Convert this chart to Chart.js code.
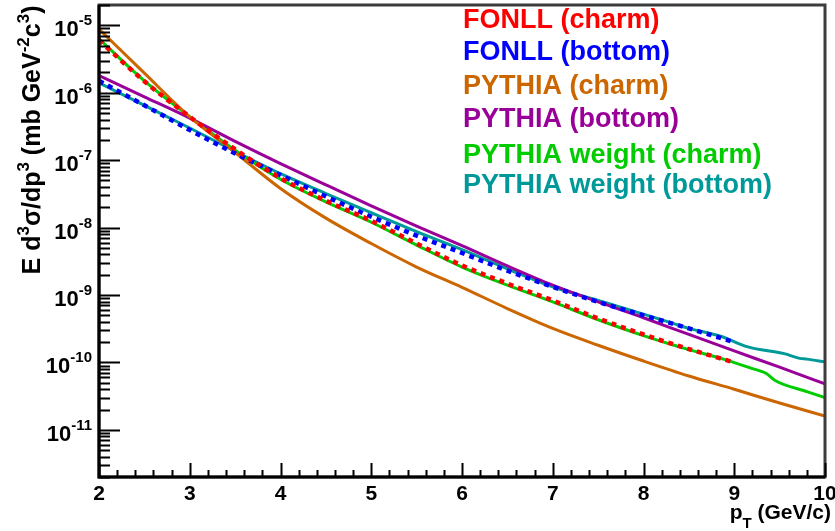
<!DOCTYPE html>
<html>
<head>
<meta charset="utf-8">
<script src="https://cdn.jsdelivr.net/npm/chart.js@4.4.0/dist/chart.umd.min.js"></script>
<style>
  body { margin: 0; background: #fff; }
  #wrap { width: 835px; height: 531px; position: relative; }
</style>
</head>
<body>
<div id="wrap"><canvas id="mainChart"></canvas></div>
<script>
// pT points (GeV/c) and cross sections (mb GeV^-2 c^3)
const ptFonll = [2, 2.5, 3, 3.5, 4, 4.5, 5, 5.5, 6, 6.5, 7, 7.5, 8, 8.5, 9];
const fonllCharm = [6.0e-6, 1.48e-6, 4.4e-7, 1.45e-7, 5.4e-8, 2.5e-8, 1.26e-8, 5.8e-9, 2.75e-9, 1.48e-9, 8.3e-10, 4.5e-10, 2.6e-10, 1.58e-10, 1.0e-10];
const fonllBottom = [1.5e-6, 6.5e-7, 2.8e-7, 1.26e-7, 6.0e-8, 2.9e-8, 1.45e-8, 7.6e-9, 4.2e-9, 2.3e-9, 1.32e-9, 7.9e-10, 5.0e-10, 3.2e-10, 2.0e-10];

const ptPythia = [2, 2.5, 3, 3.5, 4, 4.5, 5, 5.5, 6, 6.5, 7, 7.5, 8, 8.5, 9, 9.5, 10];
const pythiaCharm = [8.8e-6, 1.95e-6, 4.4e-7, 1.3e-7, 3.8e-8, 1.38e-8, 5.8e-9, 2.6e-9, 1.3e-9, 6.3e-10, 3.2e-10, 1.8e-10, 1.05e-10, 6.3e-11, 4.0e-11, 2.5e-11, 1.6e-11];
const pythiaBottom = [1.8e-6, 8.7e-7, 4.2e-7, 1.9e-7, 8.9e-8, 4.3e-8, 2.1e-8, 1.05e-8, 5.4e-9, 2.7e-9, 1.4e-9, 7.9e-10, 4.6e-10, 2.6e-10, 1.48e-10, 8.5e-11, 4.8e-11];

const ptWeightCharm = [2, 2.5, 3, 3.5, 4, 4.5, 5, 5.5, 6, 6.5, 7, 7.5, 8, 8.3, 8.5, 8.9, 9.2, 9.35, 9.45, 9.8, 10];
const weightCharm = [6.3e-6, 1.5e-6, 4.4e-7, 1.4e-7, 5.2e-8, 2.4e-8, 1.2e-8, 5.5e-9, 2.6e-9, 1.4e-9, 7.9e-10, 4.3e-10, 2.5e-10, 1.86e-10, 1.55e-10, 1.1e-10, 8.1e-11, 6.9e-11, 5.4e-11, 3.7e-11, 3.0e-11];
const ptWeightBottom = [2, 2.5, 3, 3.5, 4, 4.5, 5, 5.5, 6, 6.5, 7, 7.5, 8, 8.3, 8.5, 8.85, 9.15, 9.55, 9.72, 9.8, 10];
const weightBottom = [1.4e-6, 6.5e-7, 3.0e-7, 1.35e-7, 6.3e-8, 3.2e-8, 1.66e-8, 8.7e-9, 4.7e-9, 2.45e-9, 1.32e-9, 8.3e-10, 5.2e-10, 3.9e-10, 3.2e-10, 2.45e-10, 1.7e-10, 1.35e-10, 1.15e-10, 1.12e-10, 1.02e-10];

const seriesLabels = ['FONLL (charm)', 'FONLL (bottom)', 'PYTHIA (charm)', 'PYTHIA (bottom)', 'PYTHIA weight (charm)', 'PYTHIA weight (bottom)'];
const seriesColors = ['#ff0000', '#0000ff', '#cc6600', '#990099', '#00cc00', '#009999'];

const xTicks = [2, 3, 4, 5, 6, 7, 8, 9, 10];
const yDecades = [-11, -10, -9, -8, -7, -6, -5];

const FONT = '"Liberation Sans", Arial, sans-serif';

function pts(xs, ys) {
    return xs.map((x, i) => ({ x: x, y: ys[i] }));
}

// draw a run of text pieces, each with its own size and vertical shift
function richWidth(ctx, parts) {
    let w = 0;
    parts.forEach(p => { ctx.font = 'bold ' + p.size + 'px ' + FONT; w += ctx.measureText(p.t).width; });
    return w;
}
function drawRich(ctx, parts, x, y) {
    let cx = x;
    parts.forEach(p => {
        ctx.font = 'bold ' + p.size + 'px ' + FONT;
        ctx.fillText(p.t, cx, y + (p.dy || 0));
        cx += ctx.measureText(p.t).width;
    });
}

const rootStyle = {
    id: 'rootStyle',
    afterDatasetsDraw(chart) {
        const ctx = chart.ctx;
        const a = chart.chartArea;
        const xs = chart.scales.x;
        const ys = chart.scales.y;
        ctx.save();

        // frame
        ctx.strokeStyle = '#3c3c3c';
        ctx.lineWidth = 3;
        ctx.strokeRect(a.left, a.top, a.right - a.left, a.bottom - a.top);
        ctx.strokeStyle = '#000';
        ctx.beginPath();
        ctx.moveTo(a.left, a.top);
        ctx.lineTo(a.left, a.bottom);
        ctx.lineTo(a.right, a.bottom);
        ctx.stroke();

        // x ticks
        ctx.lineWidth = 2;
        ctx.beginPath();
        for (let i = 0; i <= 40; i++) {
            const v = 2 + i * 0.2;
            const px = Math.round(xs.getPixelForValue(v)) + 0.5;
            const len = (i % 5 === 0) ? 14 : 7;
            ctx.moveTo(px, a.bottom);
            ctx.lineTo(px, a.bottom - len);
        }
        // y ticks
        for (let e = -12; e <= -5; e++) {
            for (let k = 1; k <= 9; k++) {
                const v = k * Math.pow(10, e);
                if (v < ys.min || v > ys.max) continue;
                const py = Math.round(ys.getPixelForValue(v)) + 0.5;
                const len = (k === 1) ? 21 : 11;
                ctx.moveTo(a.left, py);
                ctx.lineTo(a.left + len, py);
            }
        }
        ctx.stroke();

        ctx.fillStyle = '#000';
        ctx.textBaseline = 'alphabetic';

        // x tick labels
        ctx.font = 'bold 21px ' + FONT;
        ctx.textAlign = 'center';
        xTicks.forEach(v => {
            ctx.fillText(String(v), xs.getPixelForValue(v), 500);
        });

        // y tick labels 10^n
        ctx.textAlign = 'left';
        yDecades.forEach(e => {
            const py = ys.getPixelForValue(Math.pow(10, e));
            const parts = [{ t: '10', size: 22, dy: 11 }, { t: String(e), size: 15, dy: 0 }];
            const w = richWidth(ctx, parts);
            drawRich(ctx, parts, 92 - w, py);
        });

        // x title
        const xt = [{ t: 'p', size: 21 }, { t: 'T', size: 15, dy: 9 }, { t: ' (GeV/c)', size: 21 }];
        drawRich(ctx, xt, 831 - richWidth(ctx, xt), 519);

        // y title
        const yt = [
            { t: 'E d', size: 25 }, { t: '3', size: 17, dy: -11 },
            { t: 'σ/dp', size: 25 }, { t: '3', size: 17, dy: -11 },
            { t: ' (mb GeV', size: 25 }, { t: '-2', size: 17, dy: -11 },
            { t: 'c', size: 25 }, { t: '3', size: 17, dy: -11 },
            { t: ')', size: 25 }
        ];
        ctx.save();
        ctx.translate(40, 140);
        ctx.rotate(-Math.PI / 2);
        drawRich(ctx, yt, -richWidth(ctx, yt) / 2, 0);
        ctx.restore();

        // legend (coloured text only)
        const legY = [28, 60, 94, 127, 163, 193];
        ctx.font = 'bold 27px ' + FONT;
        seriesLabels.forEach((lab, i) => {
            ctx.fillStyle = seriesColors[i];
            ctx.fillText(lab, 463, legY[i]);
        });

        ctx.restore();
    }
};

function dataset(i, xs, ys, dotted) {
    return {
        label: seriesLabels[i],
        data: pts(xs, ys),
        borderColor: seriesColors[i],
        backgroundColor: seriesColors[i],
        borderWidth: dotted ? 4.5 : 3,
        borderDash: dotted ? [5, 5] : [],
        borderCapStyle: 'butt',
        pointRadius: 0,
        fill: false,
        cubicInterpolationMode: 'monotone'
    };
}

window.onload = () => {
    const ctx = document.getElementById('mainChart');
    new Chart(ctx, {
        type: 'line',
        data: {
            datasets: [
                dataset(0, ptFonll, fonllCharm, true),
                dataset(1, ptFonll, fonllBottom, true),
                dataset(2, ptPythia, pythiaCharm, false),
                dataset(3, ptPythia, pythiaBottom, false),
                dataset(4, ptWeightCharm, weightCharm, false),
                dataset(5, ptWeightBottom, weightBottom, false)
            ]
        },
        options: {
            responsive: true,
            maintainAspectRatio: false,
            animation: false,
            layout: { padding: { left: 99, right: 10, top: 5, bottom: 54 } },
            plugins: { legend: { display: false }, tooltip: { enabled: false } },
            scales: {
                x: { type: 'linear', min: 2, max: 10, display: false },
                y: { type: 'logarithmic', min: 2e-12, max: 2e-5, display: false }
            }
        },
        plugins: [rootStyle]
    });
};
</script>
</body>
</html>
